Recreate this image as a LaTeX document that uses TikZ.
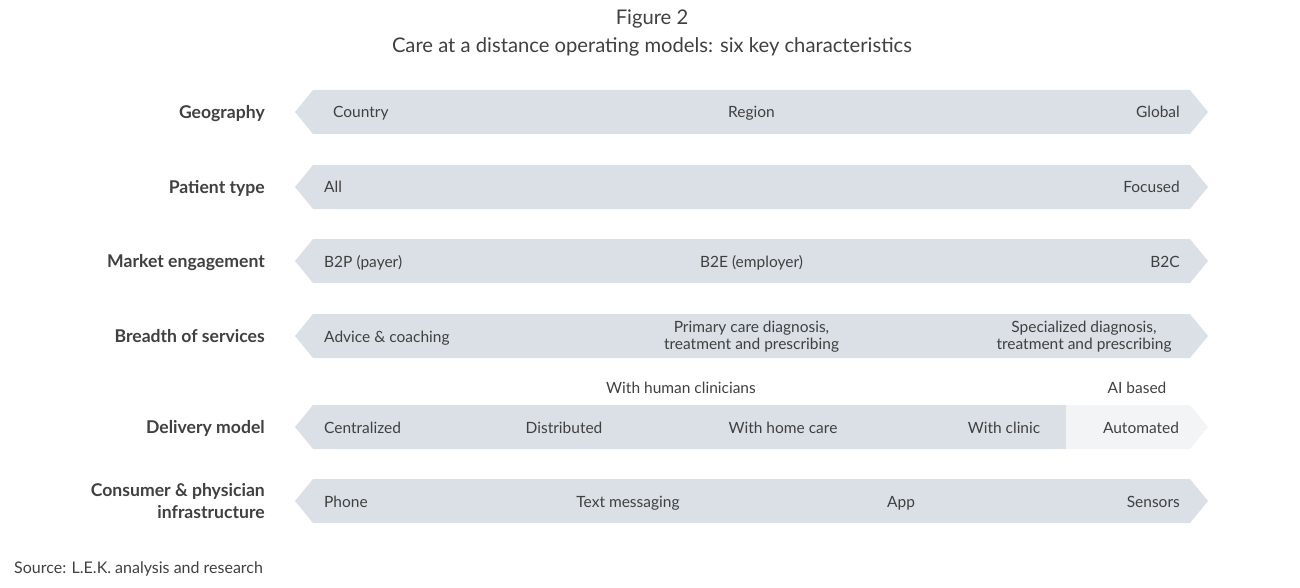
\documentclass[tikz,border=0pt]{standalone}
\usepackage{fontspec}
\setmainfont{Lato}
\usepackage{tikz}
\usetikzlibrary{positioning}
\definecolor{band}{RGB}{218, 224, 230}
\definecolor{bandlight}{RGB}{243, 244, 245}
\definecolor{ink}{RGB}{64, 64, 64}
\tikzstyle{rowlabel} = [anchor=base east, align=right, inner sep=0pt, font=\fontsize{17.6}{21.5}\selectfont\bfseries, text=ink]
\tikzstyle{item} = [anchor=base, inner sep=0pt, align=center, font=\fontsize{15.5}{17}\selectfont, text=ink]
\tikzstyle{heading} = [anchor=base, inner sep=0pt, font=\fontsize{20.2}{24}\selectfont, text=ink]

\begin{document}
\begin{tikzpicture}[x=1pt, y=-1pt]
    \useasboundingbox (0,0) rectangle (1300,588);
    % Title
    \node[heading] (fig) at (652, 25) {Figure 2};
    \node[heading] (title) at (652, 53) {Care at a distance operating models: six key characteristics};

    % Bands
    \foreach \y/\name in {112/geo, 187/pat, 261/mkt, 336/brd, 501/inf} {
        \fill[band] (295,\y) -- (313,\y-22) -- (1190,\y-22) -- (1208,\y) -- (1190,\y+22) -- (313,\y+22) -- cycle;
        \coordinate (\name) at (751.5,\y);
    }
    \fill[band] (295,427) -- (313,405) -- (1066,405) -- (1066,449) -- (313,449) -- cycle;
    \fill[bandlight] (1066,405) -- (1190,405) -- (1208,427) -- (1190,449) -- (1066,449) -- cycle;
    \coordinate (dlv) at (751.5,427);

    % Row labels
    \node[rowlabel] (lgeo) at (265, 118.5) {Geography};
    \node[rowlabel] (lpat) at (265, 193.5) {Patient type};
    \node[rowlabel] (lmkt) at (265, 267.5) {Market engagement};
    \node[rowlabel] (lbrd) at (265, 342.5) {Breadth of services};
    \node[rowlabel] (ldlv) at (265, 433.5) {Delivery model};
    \node[rowlabel, anchor=east] (linf) at (265, 501) {Consumer \& physician\\infrastructure};

    % Geography
    \node[item, anchor=base west] (country) at (333, 118) {Country};
    \node[item] (region) at ([yshift=-6pt]geo) {Region};
    \node[item, anchor=base east] (global) at (1180, 118) {Global};
    % Patient type
    \node[item, anchor=base west] (all) at (324, 193) {All};
    \node[item, anchor=base east] (focused) at (1180, 193) {Focused};
    % Market engagement
    \node[item, anchor=base west] (btp) at (324, 267) {B2P (payer)};
    \node[item] (bte) at ([yshift=-6pt]mkt) {B2E (employer)};
    \node[item, anchor=base east] (btc) at (1180, 267) {B2C};
    % Breadth of services
    \node[item, anchor=base west] (advice) at (324, 342) {Advice \& coaching};
    \node[item, anchor=center] (primary) at ([yshift=-0.5pt]brd) {Primary care diagnosis,\\treatment and prescribing};
    \node[item, anchor=center] (special) at (1084, 336.5) {Specialized diagnosis,\\treatment and prescribing};
    % Delivery model
    \node[item] (human) at (681, 393) {With human clinicians};
    \node[item] (ai) at (1137, 393) {AI based};
    \node[item, anchor=base west] (central) at (324, 433) {Centralized};
    \node[item] (distrib) at (564, 433) {Distributed};
    \node[item] (home) at (783, 433) {With home care};
    \node[item] (clinic) at (1004, 433) {With clinic};
    \node[item] (auto) at (1141, 433) {Automated};
    % Infrastructure
    \node[item, anchor=base west] (phone) at (324, 507) {Phone};
    \node[item] (text) at (628, 507) {Text messaging};
    \node[item] (app) at (901, 507) {App};
    \node[item, anchor=base east] (sensors) at (1180, 507) {Sensors};

    % Source
    \node[item, anchor=base west, font=\fontsize{16}{18}\selectfont] (source) at (14, 573) {Source: L.E.K. analysis and research};
\end{tikzpicture}
\end{document}
